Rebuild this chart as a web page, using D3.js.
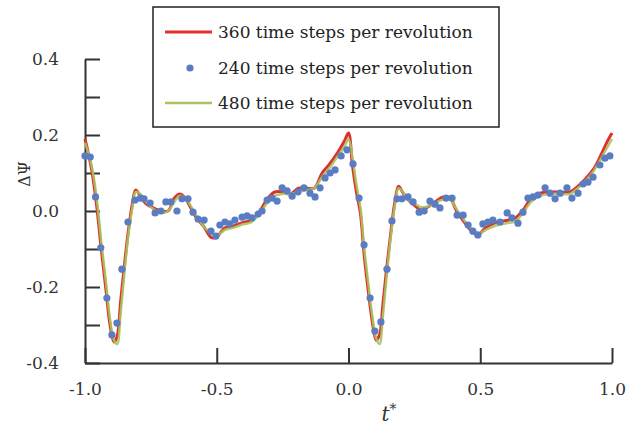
<!DOCTYPE html>
<html>
<head>
<meta charset="utf-8">
<script src="https://cdn.jsdelivr.net/npm/d3@7"></script>
<style>
  body { margin: 0; background: #fff; }
</style>
</head>
<body>
<div id="chart"></div>
<script>
// t* sample points shared by the two solid curves
const lineT = [-1.00, -0.975, -0.955, -0.94, -0.92, -0.905, -0.89, -0.878, -0.865, -0.85,
  -0.835, -0.82, -0.808, -0.79, -0.77, -0.74, -0.71, -0.685, -0.66, -0.64,
  -0.62, -0.60, -0.575, -0.55, -0.52, -0.50, -0.47, -0.44, -0.40, -0.37,
  -0.34, -0.31, -0.28, -0.25, -0.22, -0.19, -0.16, -0.13, -0.10, -0.07,
  -0.04, -0.015, 0.0, 0.015, 0.03, 0.045, 0.06, 0.075, 0.09, 0.105,
  0.118, 0.13, 0.145, 0.16, 0.175, 0.19, 0.205, 0.225, 0.25, 0.275,
  0.30, 0.33, 0.36, 0.385, 0.41, 0.44, 0.47, 0.49, 0.52, 0.56,
  0.60, 0.63, 0.66, 0.69, 0.72, 0.76, 0.80, 0.84, 0.87, 0.90,
  0.93, 0.96, 0.98, 1.00];

// 360 time steps per revolution
const psi360 = [0.19, 0.11, 0.01, -0.09, -0.21, -0.30, -0.345, -0.33, -0.24, -0.14,
  -0.05, 0.02, 0.055, 0.04, 0.02, 0.008, 0.0, 0.0, 0.035, 0.045,
  0.035, 0.01, -0.02, -0.04, -0.07, -0.068, -0.045, -0.04, -0.03, -0.025,
  -0.005, 0.03, 0.05, 0.05, 0.045, 0.06, 0.06, 0.06, 0.10, 0.125,
  0.155, 0.185, 0.205, 0.12, 0.05, -0.005, -0.12, -0.21, -0.29, -0.34,
  -0.325, -0.25, -0.15, -0.06, 0.02, 0.065, 0.05, 0.03, 0.015, 0.003,
  0.01, 0.025, 0.037, 0.035, 0.0, -0.03, -0.055, -0.063, -0.045, -0.03,
  -0.025, -0.02, 0.0, 0.03, 0.045, 0.05, 0.05, 0.05, 0.065, 0.085,
  0.11, 0.15, 0.18, 0.205];

// 480 time steps per revolution
const psi480 = [0.18, 0.12, 0.03, -0.07, -0.19, -0.285, -0.34, -0.35, -0.27, -0.16,
  -0.06, 0.01, 0.05, 0.045, 0.025, 0.005, -0.005, 0.0, 0.025, 0.04,
  0.035, 0.015, -0.015, -0.04, -0.06, -0.065, -0.05, -0.045, -0.035, -0.03,
  -0.01, 0.02, 0.04, 0.045, 0.045, 0.05, 0.055, 0.06, 0.09, 0.115,
  0.145, 0.17, 0.19, 0.14, 0.07, 0.01, -0.10, -0.19, -0.275, -0.335,
  -0.35, -0.28, -0.17, -0.07, 0.01, 0.06, 0.052, 0.03, 0.02, 0.01,
  0.012, 0.022, 0.03, 0.03, 0.005, -0.025, -0.05, -0.06, -0.05, -0.038,
  -0.032, -0.028, -0.008, 0.022, 0.038, 0.045, 0.045, 0.045, 0.06, 0.08,
  0.105, 0.14, 0.165, 0.19];

// 240 time steps per revolution (markers)
const dotT = [-1.00, -0.98, -0.96, -0.94, -0.917, -0.898, -0.879, -0.86, -0.837, -0.81,
  -0.79, -0.776, -0.753, -0.734, -0.712, -0.693, -0.674, -0.651, -0.632, -0.609,
  -0.59, -0.571, -0.548, -0.522, -0.503, -0.488, -0.469, -0.45, -0.431, -0.404,
  -0.385, -0.366, -0.343, -0.328, -0.309, -0.29, -0.271, -0.252, -0.233, -0.214,
  -0.192, -0.169, -0.146, -0.127, -0.108, -0.089, -0.07, -0.051, -0.028, -0.006,
  0.017, 0.04, 0.059, 0.082, 0.10, 0.123, 0.146, 0.165, 0.184, 0.203,
  0.226, 0.245, 0.268, 0.287, 0.309, 0.328, 0.347, 0.37, 0.393, 0.412,
  0.435, 0.454, 0.472, 0.491, 0.51, 0.529, 0.548, 0.575, 0.602, 0.62,
  0.643, 0.662, 0.681, 0.70, 0.719, 0.746, 0.765, 0.784, 0.803, 0.829,
  0.848, 0.871, 0.89, 0.909, 0.928, 0.954, 0.973, 0.992];
const psi240 = [0.145, 0.142, 0.037, -0.097, -0.229, -0.326, -0.295, -0.153, -0.029, 0.029,
  0.034, 0.032, 0.021, -0.005, 0.0, 0.024, 0.024, 0.0, 0.032, 0.032,
  -0.003, -0.021, -0.024, -0.053, -0.066, -0.037, -0.029, -0.034, -0.024, -0.016,
  -0.013, -0.018, -0.008, 0.0, 0.029, 0.034, 0.026, 0.061, 0.053, 0.039,
  0.05, 0.061, 0.047, 0.037, 0.061, 0.087, 0.1, 0.108, 0.145, 0.161,
  0.124, 0.034, -0.089, -0.229, -0.316, -0.292, -0.153, -0.026, 0.032, 0.032,
  0.037, 0.024, -0.003, 0.0, 0.026, 0.018, 0.008, 0.034, 0.034, -0.011,
  -0.011, -0.037, -0.053, -0.063, -0.034, -0.029, -0.024, -0.029, -0.005, -0.018,
  -0.032, -0.003, 0.034, 0.037, 0.042, 0.061, 0.047, 0.032, 0.047, 0.061,
  0.034, 0.047, 0.071, 0.076, 0.089, 0.121, 0.139, 0.145];

const xTicks = [-1.0, -0.5, 0.0, 0.5, 1.0];
const yTicks = [-0.4, -0.3, -0.2, -0.1, 0.0, 0.1, 0.2, 0.3, 0.4];
const legendLabels = ["360 time steps per revolution", "240 time steps per revolution", "480 time steps per revolution"];

const width = 628;
const height = 434;
const margin = { top: 59, right: 16, bottom: 71, left: 85 };

const red = "#e0302c";
const green = "#a9c45e";
const blue = "#5a7cc2";
const font = "DejaVu Serif";

const svg = d3.select("#chart")
  .append("svg")
  .attr("width", width)
  .attr("height", height);

const x = d3.scaleLinear()
  .domain([-1, 1])
  .range([margin.left, width - margin.right]);

const y = d3.scaleLinear()
  .domain([-0.4, 0.4])
  .range([height - margin.bottom, margin.top]);

// axes, ticks pointing inward
const yAxis = svg.append("g")
  .attr("transform", `translate(${margin.left},0)`)
  .call(d3.axisLeft(y)
    .tickValues(yTicks)
    .tickSizeInner(-15)
    .tickSizeOuter(0)
    .tickPadding(26)
    .tickFormat(d => Math.round(d * 10) % 2 === 0 ? d.toFixed(1) : ""));

const xAxis = svg.append("g")
  .attr("transform", `translate(0,${height - margin.bottom})`)
  .call(d3.axisBottom(x)
    .tickValues(xTicks)
    .tickSizeInner(-15)
    .tickSizeOuter(0)
    .tickPadding(20)
    .tickFormat(d => d.toFixed(1)));

[xAxis, yAxis].forEach(g => {
  g.attr("font-family", font).attr("font-size", 17);
  g.select(".domain").attr("stroke", "#333").attr("stroke-width", 2);
  g.selectAll(".tick line").attr("stroke", "#333").attr("stroke-width", 2);
  g.selectAll(".tick text").attr("fill", "#333");
});

// curves
const line = d3.line()
  .x(i => x(lineT[i]))
  .curve(d3.curveCatmullRom.alpha(0.5));

svg.append("path")
  .attr("d", line.y(i => y(psi360[i]))(d3.range(lineT.length)))
  .attr("fill", "none")
  .attr("stroke", red)
  .attr("stroke-width", 3);

svg.append("path")
  .attr("d", line.y(i => y(psi480[i]))(d3.range(lineT.length)))
  .attr("fill", "none")
  .attr("stroke", green)
  .attr("stroke-width", 2.5)
  .attr("stroke-opacity", 0.9);

svg.append("g")
  .selectAll("circle")
  .data(dotT)
  .enter()
  .append("circle")
  .attr("cx", (d, i) => x(d))
  .attr("cy", (d, i) => y(psi240[i]))
  .attr("r", 3.6)
  .attr("fill", blue);

// axis titles
svg.append("text")
  .attr("transform", "translate(30,174) rotate(-90)")
  .attr("font-family", font)
  .attr("font-size", 16)
  .attr("fill", "#333")
  .style("text-anchor", "middle")
  .text("ΔΨ");

const tLabel = svg.append("text")
  .attr("x", 389)
  .attr("y", 421)
  .attr("font-family", font)
  .attr("font-size", 20)
  .attr("font-style", "italic")
  .attr("fill", "#333")
  .style("text-anchor", "middle");
tLabel.append("tspan").text("t");
tLabel.append("tspan").attr("dy", -7).attr("font-size", 14).text("*");

// legend
const legend = svg.append("g");
legend.append("rect")
  .attr("x", 153)
  .attr("y", 7)
  .attr("width", 346)
  .attr("height", 120)
  .attr("fill", "#fff")
  .attr("stroke", "#222")
  .attr("stroke-width", 1.5);

const rowY = [32, 68, 103];
legend.append("line")
  .attr("x1", 165).attr("x2", 212)
  .attr("y1", rowY[0]).attr("y2", rowY[0])
  .attr("stroke", red).attr("stroke-width", 3);
legend.append("circle")
  .attr("cx", 190).attr("cy", rowY[1])
  .attr("r", 3.6).attr("fill", blue);
legend.append("line")
  .attr("x1", 165).attr("x2", 212)
  .attr("y1", rowY[2]).attr("y2", rowY[2])
  .attr("stroke", green).attr("stroke-width", 2.5);

legend.selectAll(".legend-label")
  .data(legendLabels)
  .enter()
  .append("text")
  .attr("class", "legend-label")
  .attr("x", 218)
  .attr("y", (d, i) => rowY[i])
  .attr("dy", "0.35em")
  .attr("font-family", font)
  .attr("font-size", 17)
  .attr("fill", "#222")
  .text(d => d);
</script>
</body>
</html>
